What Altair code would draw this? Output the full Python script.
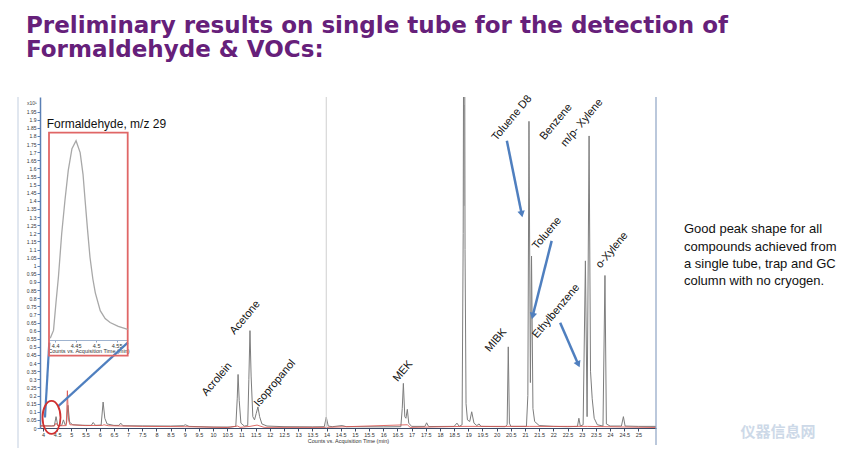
import altair as alt
import pandas as pd

# ---------------- data ----------------
title_lines = ["Preliminary results on single tube for the detection of",
               "Formaldehyde & VOCs:"]
note_lines = ["Good peak shape for all", "compounds achieved from",
              "a single tube, trap and GC", "column with no cryogen."]

# main chromatogram (grey trace), retention time (min) / counts (x10^1)
gray_t = [3.894, 4.30, 4.40, 4.46, 4.52, 4.66, 4.72, 4.78, 4.83, 4.88, 4.94, 5.05,
          5.40, 5.70, 5.77, 5.85, 6.05, 6.12, 6.18, 6.26, 6.50, 6.68, 6.74, 6.82,
          7.5, 8.5, 8.95, 9.02, 9.15, 10.0, 10.6, 10.80, 10.85, 10.88, 10.92, 10.98,
          11.1, 11.22, 11.26, 11.30, 11.34, 11.40, 11.46, 11.52, 11.58, 11.64, 11.72,
          11.9, 12.5, 13.5, 13.92, 13.99, 14.06, 14.2, 14.55, 14.7, 16.0, 16.62,
          16.67, 16.71, 16.76, 16.80, 16.85, 16.90, 17.0, 17.47, 17.53, 17.6, 18.5,
          18.6, 18.68, 18.78, 18.82, 18.845, 18.865, 18.885, 18.92, 18.97, 19.05,
          19.12, 19.2, 19.3, 19.38, 19.45, 20.3, 20.37, 20.41, 20.45, 20.5, 21.05,
          21.1, 21.14, 21.19, 21.23, 21.28, 21.34, 21.5, 22.0, 22.5, 22.85, 22.9,
          22.95, 23.05, 23.13, 23.19, 23.26, 23.31, 23.37, 23.44, 23.55, 23.75,
          23.82, 23.87, 24.0, 24.40, 24.47, 24.53, 25.0, 25.62]
gray_v = [0.014, 0.013, 0.015, 0.07, 0.016, 0.016, 0.05, 0.02, 0.03, 0.14, 0.035, 0.02,
          0.017, 0.016, 0.034, 0.016, 0.018, 0.16, 0.06, 0.025, 0.016, 0.016, 0.03, 0.014,
          0.013, 0.012, 0.014, 0.02, 0.01, 0.006, 0.006, 0.01, 0.18, 0.33, 0.17, 0.03,
          0.012, 0.015, 0.30, 0.60, 0.32, 0.07, 0.05, 0.09, 0.13, 0.07, 0.025,
          0.012, 0.008, 0.007, 0.008, 0.067, 0.012, 0.008, 0.015, 0.008, 0.007, 0.008,
          0.12, 0.275, 0.07, 0.06, 0.115, 0.03, 0.01, 0.01, 0.032, 0.009, 0.01,
          0.03, 0.01, 0.02, 1.2, 3.2, 3.2, 1.1, 0.15, 0.05, 0.04,
          0.10, 0.03, 0.015, 0.025, 0.01, 0.008, 0.02, 0.50, 0.03, 0.01, 0.01,
          0.2, 1.89, 0.28, 1.06, 0.12, 0.04, 0.015, 0.01, 0.008, 0.01, 0.06,
          0.012, 0.02, 1.03, 0.07, 1.80, 0.35, 0.18, 0.06, 0.02, 0.012,
          0.94, 0.025, 0.012, 0.012, 0.07, 0.012, 0.01, 0.01]

# saturated top of the 18.85 min peak (light grey band)
sat_t1 = [18.835]
sat_t2 = [18.875]
sat_v1 = [1.37]
sat_v2 = [1.99]

# red trace
red_t = [3.894, 4.40, 4.46, 4.52, 4.82, 4.86, 4.90, 4.95, 5.5, 6.1, 6.15, 6.3, 7.5,
         9.0, 10.5, 10.86, 10.95, 11.3, 11.55, 11.8, 14.0, 16.85, 16.95, 18.85,
         21.15, 23.2, 25.62]
red_v = [0.012, 0.012, 0.03, 0.013, 0.015, 0.23, 0.05, 0.02, 0.015, 0.016, 0.02, 0.014,
         0.01, 0.008, 0.003, 0.012, 0.004, 0.01, 0.018, 0.004, 0.004, 0.02, 0.004,
         0.01, 0.01, 0.01, 0.003]

# compound labels
label_names = ["Acrolein", "Acetone", "Isopropanol", "MEK", "MIBK", "Toluene D8",
               "Benzene", "m/p- Xylene", "Toluene", "Ethylbenzene", "o-Xylene"]
label_t = [10.14, 11.13, 12.18, 16.70, 19.98, 20.54, 22.10, 23.01, 21.78, 22.10, 24.07]
label_v = [0.30, 0.68, 0.275, 0.35, 0.54, 1.91, 1.886, 1.88, 1.20, 0.72, 1.096]

# blue arrows (start -> end)
arrow_t1 = [20.36, 21.94, 22.24]
arrow_v1 = [1.77, 1.153, 0.649]
arrow_t2 = [20.885, 21.27, 22.88]
arrow_v2 = [1.318, 0.69, 0.392]
arrow_angle = [168.4, 194.2, 156.3]

# connector lines from the circled peak to the zoom box
conn_t1 = [4.222, 6.99]
conn_v1 = [0.526, 0.526]
conn_t2 = [4.07, 4.54]
conn_v2 = [0.065, 0.135]

circle_t = [4.30]
circle_v = [0.065]
marker_t = [13.99]

x_ticks = [4 + 0.5 * i for i in range(43)]
y_ticks = [round(0.05 * i, 2) for i in range(40)]

# zoomed formaldehyde peak (m/z 29), % of apex
inset_t = [4.388, 4.396, 4.402, 4.408, 4.416, 4.424, 4.432, 4.441, 4.451, 4.461,
           4.468, 4.473, 4.479, 4.485, 4.492, 4.498, 4.510, 4.522, 4.534, 4.554, 4.577]
inset_v = [0, 4, 18, 31, 53, 70, 85, 96, 100, 94, 83, 70, 55, 41, 30, 23, 14, 10, 8, 6, 4.5]
inset_ticks = [4.4, 4.45, 4.5, 4.55]

# ---------------- chart ----------------
W, H = 616, 331
FONT = "Liberation Sans"
xs = alt.Scale(domain=[3.894, 25.62], nice=False, zero=False)
ys = alt.Scale(domain=[0, 2.04], nice=False, zero=False)
one = pd.DataFrame({"d": [0]})


def X(f, axis=None):
    return alt.X(f, scale=xs, axis=axis)


def Y(f, axis=None):
    return alt.Y(f, scale=ys, axis=axis)


x_axis = alt.Axis(values=x_ticks, format="~g", labelFontSize=5.5, labelColor="#333",
                  tickSize=3, tickColor="#3b4a66", domainColor="#3b4a66", domainWidth=1.2,
                  labelPadding=1, labelFlush=False, labelOverlap=False, grid=False,
                  title="Counts vs. Acquisition Time (min)", titleFontSize=5.5,
                  titleFontWeight="normal", titleColor="#333", titlePadding=1,
                  labelFont=FONT, titleFont=FONT, orient="bottom")
y_axis = alt.Axis(values=y_ticks, format="~g", labelFontSize=5, labelColor="#333",
                  tickSize=3, tickColor="#5a7fb5", domainColor="#5a7fb5", domainWidth=1.5,
                  labelPadding=1, labelFlush=False, labelOverlap=False, grid=False,
                  title=None, labelFont=FONT, orient="left")

gray = alt.Chart(pd.DataFrame({"t": gray_t, "v": gray_v})).mark_line(
    color="#7d7d7d", strokeWidth=1, clip=True).encode(
    x=X("t:Q", x_axis), y=Y("v:Q", y_axis))

sat = alt.Chart(pd.DataFrame({"t": sat_t1, "t2": sat_t2, "v": sat_v1, "v2": sat_v2})
                ).mark_rect(color="#c4c4c4").encode(
    x=X("t:Q"), x2="t2:Q", y=Y("v:Q"), y2="v2:Q")

red = alt.Chart(pd.DataFrame({"t": red_t, "v": red_v})).mark_line(
    color="#d9534f", strokeWidth=1, opacity=0.85, clip=True).encode(
    x=X("t:Q"), y=Y("v:Q"))

marker = alt.Chart(pd.DataFrame({"t": marker_t})).mark_rule(
    color="#cfcfcf", strokeWidth=1).encode(x=X("t:Q"))

labels = alt.Chart(pd.DataFrame({"name": label_names, "t": label_t, "v": label_v})).mark_text(
    angle=310, fontSize=11, font=FONT, color="#111", align="center", baseline="middle").encode(
    x=X("t:Q"), y=Y("v:Q"), text="name:N")

arr_df = pd.DataFrame({"t": arrow_t1, "v": arrow_v1, "t2": arrow_t2, "v2": arrow_v2,
                       "ang": arrow_angle})
arrows = alt.Chart(arr_df).mark_rule(color="#4f7fbf", strokeWidth=2.5).encode(
    x=X("t:Q"), y=Y("v:Q"), x2="t2:Q", y2="v2:Q")
heads = alt.Chart(arr_df).mark_point(shape="triangle-up", filled=True, color="#4f7fbf",
                                     size=55, opacity=1).encode(
    x=X("t2:Q"), y=Y("v2:Q"), angle=alt.Angle("ang:Q", scale=None))

conn = alt.Chart(pd.DataFrame({"t": conn_t1, "v": conn_v1, "t2": conn_t2, "v2": conn_v2})
                 ).mark_rule(color="#4f7fbf", strokeWidth=2.2).encode(
    x=X("t:Q"), y=Y("v:Q"), x2="t2:Q", y2="v2:Q")

ellipse = alt.Chart(pd.DataFrame({"t": circle_t, "v": circle_v})).mark_point(
    shape="M0,-1A0.545,1,0,1,1,0,1A0.545,1,0,1,1,0,-1Z", size=1089, filled=False,
    stroke="#d03030", strokeWidth=1.8, opacity=1).encode(x=X("t:Q"), y=Y("v:Q"))

frame_r = alt.Chart(one).mark_rule(color="#8ea3c4", strokeWidth=1.2).encode(
    x=alt.value(616), y=alt.value(0), y2=alt.value(348))
frame_l = alt.Chart(one).mark_rule(color="#c3cfe0", strokeWidth=1).encode(
    x=alt.value(-22), y=alt.value(0), y2=alt.value(351))

exp_txt = alt.Chart(one).mark_text(text="x10\u00b9", fontSize=5, font=FONT, color="#444",
                                   align="left", baseline="middle").encode(
    x=alt.value(-13), y=alt.value(6))

note = alt.Chart(one).mark_text(text="\n".join(note_lines), lineBreak="\n", fontSize=13,
                                font=FONT, color="#111", align="left",
                                baseline="alphabetic", lineHeight=17.3).encode(
    x=alt.value(644), y=alt.value(136.3))

watermark = alt.Chart(one).mark_text(text="仪器信息网", fontSize=15, fontWeight="bold",
                                     font="Noto Sans CJK SC", color="#cdd9e8",
                                     align="center", baseline="middle").encode(
    x=alt.value(738), y=alt.value(335))

# ---- inset (zoom on formaldehyde peak), own scales placed inside the plot ----
ixs = alt.Scale(domain=[4.385, 4.577], range=[9, 87.7], nice=False, zero=False)
iys = alt.Scale(domain=[0, 100], range=[241.3, 43.7], nice=False, zero=False)
inset_axis = alt.Axis(orient="bottom", offset=-88, values=inset_ticks, format="~g",
                      labelFontSize=5.5, labelColor="#333", tickSize=2,
                      tickColor="#8ea3c4", domainColor="#9fb3cf", labelPadding=1,
                      labelFlush=False, labelOverlap=False, grid=False,
                      title="Counts vs. Acquisition Time (min)", titleFontSize=5.5,
                      titleFontWeight="normal", titleColor="#333", titlePadding=0,
                      labelFont=FONT, titleFont=FONT)
inset_line = alt.Chart(pd.DataFrame({"ti": inset_t, "vi": inset_v})).mark_line(
    color="#a8a8a8", strokeWidth=1.3).encode(
    x=alt.X("ti:Q", scale=ixs, axis=inset_axis),
    y=alt.Y("vi:Q", scale=iys, axis=None))
inset_box = alt.Chart(one).mark_rect(fill="transparent", stroke="#e06666",
                                     strokeWidth=1.8).encode(
    x=alt.value(9), x2=alt.value(87.7), y=alt.value(35.7), y2=alt.value(258.7))
inset_title = alt.Chart(one).mark_text(text="Formaldehyde, m/z 29", fontSize=12,
                                       font=FONT, color="#111", align="left",
                                       baseline="alphabetic").encode(
    x=alt.value(6.7), y=alt.value(31))

chart = alt.layer(
    sat, gray, red, marker, labels, arrows, heads, conn, ellipse,
    frame_r, frame_l, exp_txt, note, watermark,
    inset_box, inset_line, inset_title,
).resolve_scale(x="independent", y="independent").properties(
    width=W, height=H,
    padding={"left": 40, "top": 97, "right": 192, "bottom": 22},
    autosize=alt.AutoSizeParams(type="none"),
    background="white",
    title=alt.TitleParams(text=title_lines, anchor="start", frame="group", dx=-14,
                          offset=31, fontSize=23, font="DejaVu Sans", fontWeight="bold",
                          color="#66207a", lineHeight=24.3),
).configure_view(stroke=None)

chart.save("out.html", embed_options={"renderer": "svg", "actions": False})
